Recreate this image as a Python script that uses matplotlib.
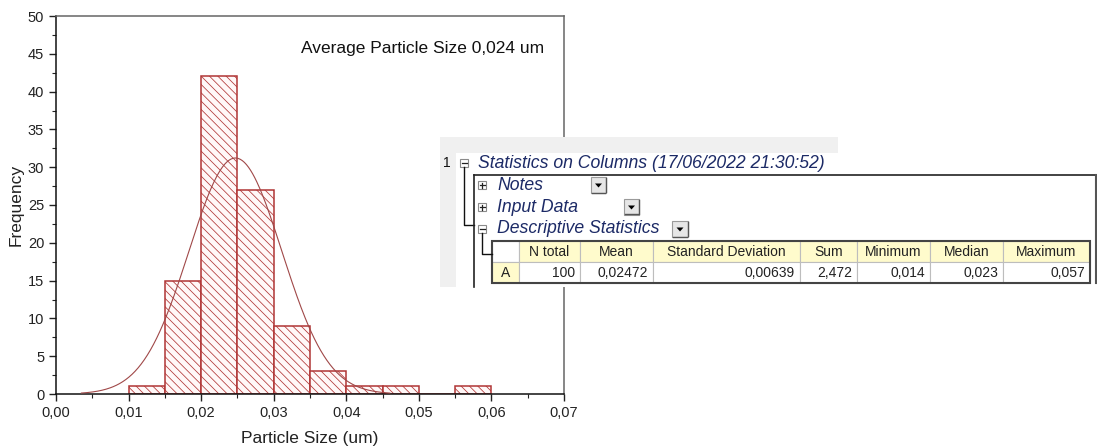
import numpy as np
import matplotlib
matplotlib.use("Agg")
import matplotlib.pyplot as plt
from matplotlib.patches import Rectangle, Polygon
from matplotlib.lines import Line2D
from matplotlib.ticker import MultipleLocator, FuncFormatter

plt.rcParams['font.family'] = ['Liberation Sans', 'DejaVu Sans']
plt.rcParams['hatch.linewidth'] = 0.55

# histogram bins (um) and counts
bin_left = [0.010, 0.015, 0.020, 0.025, 0.030, 0.035, 0.040, 0.045, 0.050, 0.055]
counts = [1, 15, 42, 27, 9, 3, 1, 1, 0, 1]
bin_width = 0.005

# descriptive statistics (from Origin table)
n_total = 100
mean = 0.02472
std_dev = 0.00639
table_headers = ["", "N total", "Mean", "Standard Deviation", "Sum", "Minimum", "Median", "Maximum"]
table_values = ["A", "100", "0,02472", "0,00639", "2,472", "0,014", "0,023", "0,057"]

W, H = 1097, 447
fig = plt.figure(figsize=(W / 100, H / 100), dpi=100)


def px(x):
    return x / W


def py(y):
    return 1 - y / H


# ---------------- histogram ----------------
ax = fig.add_axes([px(56), py(394), (564 - 56) / W, (394 - 16) / H])
red = '#B03535'
ax.bar(bin_left, counts, width=bin_width, align='edge', facecolor='#FFF8F8',
       edgecolor=red, linewidth=1.1, hatch='\\\\\\\\', zorder=2)

# normal fit curve
xs = np.linspace(0.0035, 0.046, 300)
ys = n_total * bin_width / (std_dev * np.sqrt(2 * np.pi)) * np.exp(-0.5 * ((xs - mean) / std_dev) ** 2)
ax.plot(xs, ys, color='#A04848', lw=0.8, zorder=3)

ax.set_xlim(0, 0.07)
ax.set_ylim(0, 50)
ax.xaxis.set_major_locator(MultipleLocator(0.01))
ax.xaxis.set_minor_locator(MultipleLocator(0.005))
ax.yaxis.set_major_locator(MultipleLocator(5))
ax.yaxis.set_minor_locator(MultipleLocator(2.5))
ax.xaxis.set_major_formatter(FuncFormatter(lambda v, p: f"{v:.2f}".replace('.', ',')))
ax.tick_params(axis='both', which='major', direction='out', length=5, width=1, labelsize=10.5, colors='#222')
ax.tick_params(axis='both', which='minor', direction='out', length=3, width=0.8, colors='#222')
ax.tick_params(top=False, right=False, which='both')
for s in ['left', 'bottom']:
    ax.spines[s].set_color('#111')
    ax.spines[s].set_linewidth(1.1)
for s in ['top', 'right']:
    ax.spines[s].set_color('#666')
    ax.spines[s].set_linewidth(1.1)
ax.set_xlabel('Particle Size (um)', fontsize=12.5, color='#222', labelpad=8)
ax.set_ylabel('Frequency', fontsize=12.5, color='#222', labelpad=3)
ax.text(0.961, 0.915, 'Average Particle Size 0,024 um', transform=ax.transAxes,
        ha='right', va='center', fontsize=12.5, color='#111')

# ---------------- statistics panel overlay ----------------
navy = '#1C2A66'


def rect(x0, y0, x1, y1, **kw):
    fig.add_artist(Rectangle((px(x0), py(y1)), px(x1) - px(x0), py(y0) - py(y1),
                             transform=fig.transFigure, **kw))


def line(xs_, ys_, **kw):
    fig.add_artist(Line2D([px(v) for v in xs_], [py(v) for v in ys_],
                          transform=fig.transFigure, **kw))


def tree_box(x, y, sign):
    rect(x - 4, y - 4, x + 4, y + 4, facecolor='white', edgecolor='#8A8A8A', lw=0.8)
    line([x - 2.5, x + 2.5], [y, y], color='#222', lw=0.9)
    if sign == '+':
        line([x, x], [y - 2.5, y + 2.5], color='#222', lw=0.9)


def dropdown(x0, y0, x1, y1):
    rect(x0, y0, x1, y1, facecolor='#E6E6E6', edgecolor='#9A9A9A', lw=0.8)
    line([x0 + 1, x1 - 1], [y1 - 0.5, y1 - 0.5], color='#555', lw=1)
    line([x1 - 0.5, x1 - 0.5], [y0 + 1, y1 - 1], color='#555', lw=1)
    cx, cy = (x0 + x1) / 2, (y0 + y1) / 2 + 0.5
    fig.add_artist(Polygon([(px(cx - 3.5), py(cy - 2)), (px(cx + 3.5), py(cy - 2)), (px(cx), py(cy + 2))],
                           closed=True, facecolor='black', edgecolor='none', transform=fig.transFigure))


rect(440, 137, 838, 287, facecolor='#F0F0F0', edgecolor='none')
rect(456, 153, 838, 287, facecolor='white', edgecolor='none')

fig.text(px(447), py(163), '1', fontsize=10, ha='center', va='center', color='#111')
tree_box(464, 163, '-')
fig.text(px(478), py(163), 'Statistics on Columns (17/06/2022 21:30:52)', fontsize=12.7,
         style='italic', ha='left', va='center', color=navy)
line([464, 464, 474], [167, 225, 225], color='#111', lw=1)

# outer frame
line([474, 474], [287, 175], color='#222', lw=1.2)
line([474, 1096], [175, 175], color='#222', lw=1.2)
line([1096, 1096], [175, 283], color='#555', lw=1.5)

rows = [("Notes", 185, '+', (591, 606)), ("Input Data", 207, '+', (624, 639)),
        ("Descriptive Statistics", 229, '-', (672, 688))]
for label, y, sign, (dx0, dx1) in rows:
    tree_box(482, y, sign)
    fig.text(px(497), py(y), label, fontsize=12.7, style='italic', ha='left', va='center', color=navy)
    dropdown(dx0, y - 8, dx1, y + 8)
line([482, 482, 492], [233, 254, 254], color='#111', lw=1)

# table
col_edges = [492, 519, 580, 653, 800, 857, 930, 1003, 1090]
y_top, y_mid, y_bot = 241, 262, 283
yellow = '#FFFBCC'
for i in range(len(table_headers)):
    x0, x1 = col_edges[i], col_edges[i + 1]
    hc = 'white' if i == 0 else yellow
    dc = yellow if i == 0 else 'white'
    rect(x0, y_top, x1, y_mid, facecolor=hc, edgecolor='#BDBDBD', lw=0.8)
    rect(x0, y_mid, x1, y_bot, facecolor=dc, edgecolor='#BDBDBD', lw=0.8)
    if table_headers[i]:
        fig.text(px((x0 + x1) / 2), py((y_top + y_mid) / 2 + 0.5), table_headers[i], fontsize=10,
                 ha='center', va='center', color='#222')
    if i == 0:
        fig.text(px((x0 + x1) / 2), py((y_mid + y_bot) / 2 + 0.5), table_values[i], fontsize=10,
                 ha='center', va='center', color='#222')
    else:
        fig.text(px(x1 - 5), py((y_mid + y_bot) / 2 + 0.5), table_values[i], fontsize=10,
                 ha='right', va='center', color='#222')
rect(col_edges[0], y_top, col_edges[-1], y_bot, facecolor='none', edgecolor='#444', lw=1.5)

fig.savefig('out.png', dpi=100)
